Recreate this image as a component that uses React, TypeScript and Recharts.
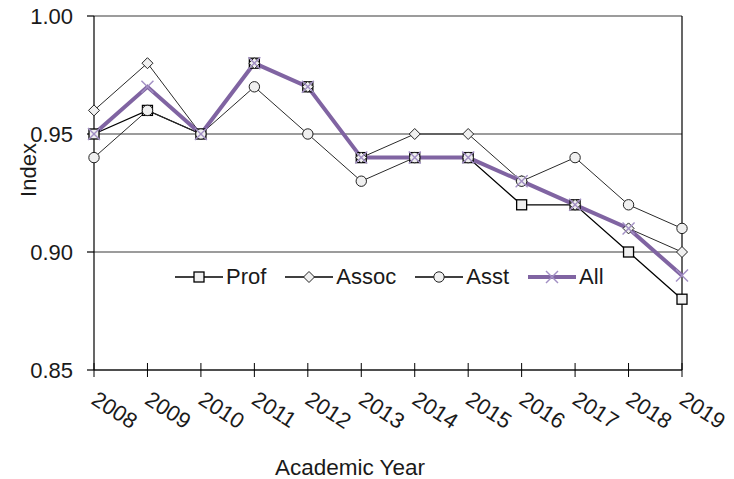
import React from 'react';
import { LineChart, Line, XAxis, YAxis, CartesianGrid, ReferenceLine, Label } from 'recharts';

const years = [2008, 2009, 2010, 2011, 2012, 2013, 2014, 2015, 2016, 2017, 2018, 2019];
const prof = [0.95, 0.96, 0.95, 0.98, 0.97, 0.94, 0.94, 0.94, 0.92, 0.92, 0.90, 0.88];
const assoc = [0.96, 0.98, 0.95, 0.98, 0.97, 0.94, 0.95, 0.95, 0.93, 0.92, 0.91, 0.90];
const asst = [0.94, 0.96, 0.95, 0.97, 0.95, 0.93, 0.94, 0.94, 0.93, 0.94, 0.92, 0.91];
const all = [0.95, 0.97, 0.95, 0.98, 0.97, 0.94, 0.94, 0.94, 0.93, 0.92, 0.91, 0.89];
const yTicks = [0.85, 0.9, 0.95, 1.0];
const seriesNames = ['Prof', 'Assoc', 'Asst', 'All'];

const data = years.map((y, i) => ({
  year: y,
  Prof: prof[i],
  Assoc: assoc[i],
  Asst: asst[i],
  All: all[i],
}));

const FONT = '"Liberation Sans", Arial, sans-serif';
const TEXT = '#1a1a1a';
const PURPLE = '#8064A2';
const XPURPLE = '#a28fc4';
const MFILL = '#f0f0f0';

const square = (cx: number, cy: number, key?: any) => (
  <rect key={key} x={cx - 5} y={cy - 5} width={10} height={10} fill={MFILL} stroke="#000" strokeWidth={1.3} />
);
const diamond = (cx: number, cy: number, key?: any) => (
  <path key={key} d={`M${cx},${cy - 5.5}L${cx + 5.5},${cy}L${cx},${cy + 5.5}L${cx - 5.5},${cy}Z`} fill={MFILL} stroke="#222" strokeWidth={1} />
);
const circle = (cx: number, cy: number, key?: any) => (
  <circle key={key} cx={cx} cy={cy} r={5.2} fill={MFILL} stroke="#222" strokeWidth={1} />
);
const cross = (cx: number, cy: number, key?: any) => (
  <g key={key}>
    <line x1={cx - 6} y1={cy - 6} x2={cx + 6} y2={cy + 6} stroke={XPURPLE} strokeWidth={1.4} />
    <line x1={cx - 6} y1={cy + 6} x2={cx + 6} y2={cy - 6} stroke={XPURPLE} strokeWidth={1.4} />
  </g>
);

const mk = (fn: any) => (props: any) => fn(props.cx, props.cy, props.key ?? `${props.index}`);

const XTick = (props: any) => {
  const { x, y, payload } = props;
  return (
    <g>
      <line x1={x} x2={x} y1={y - 14} y2={y} stroke="#000" strokeWidth={1} />
      <text
        transform={`translate(${x - 4},${y + 26}) rotate(33)`}
        fontFamily={FONT}
        fontSize={22}
        fill={TEXT}
        textAnchor="start"
      >
        {payload.value}
      </text>
    </g>
  );
};

const legendSymbols: Record<string, (cx: number, cy: number) => any> = {
  Prof: square,
  Assoc: diamond,
  Asst: circle,
  All: cross,
};

const LegendBox = () => (
  <div
    style={{
      position: 'absolute',
      left: 175,
      top: 262,
      display: 'flex',
      alignItems: 'center',
      fontFamily: FONT,
      fontSize: 22,
      color: TEXT,
      whiteSpace: 'nowrap',
    }}
  >
    {seriesNames.map((n) => (
      <div key={n} style={{ display: 'flex', alignItems: 'center', marginRight: 19 }}>
        <svg width={48} height={30} style={{ display: 'block' }}>
          <line x1={0} x2={48} y1={15} y2={15} stroke={n === 'All' ? PURPLE : '#000'} strokeWidth={n === 'All' ? 4 : 1.3} />
          {legendSymbols[n](24, 15)}
        </svg>
        <span style={{ marginLeft: 3, lineHeight: '30px' }}>{n}</span>
      </div>
    ))}
  </div>
);

export default function App() {
  return (
    <div style={{ position: 'relative', width: 734, height: 479, margin: '-8px 0 0 -8px' }}>
      <LineChart
        width={734}
        height={479}
        data={data}
        margin={{ top: 16, right: 52, bottom: 29, left: 34 }}
        style={{ overflow: 'visible' }}
      >
        <CartesianGrid vertical={false} stroke="#3a3a3a" strokeWidth={1.2} />
        <XAxis
          dataKey="year"
          type="category"
          scale="point"
          padding={{ left: 0, right: 0 }}
          height={80}
          axisLine={{ stroke: '#000', strokeWidth: 1.2 }}
          tickLine={false}
          tickSize={7}
          tickMargin={0}
          tick={<XTick />}
          interval={0}
        >
          <Label
            content={() => (
              <text x={350} y={475} textAnchor="middle" fontFamily={FONT} fontSize={22.5} fill={TEXT}>
                Academic Year
              </text>
            )}
          />
        </XAxis>
        <YAxis
          domain={[0.85, 1.0]}
          ticks={yTicks}
          width={60}
          axisLine={{ stroke: '#000', strokeWidth: 1.2 }}
          tickLine={{ stroke: '#000', strokeWidth: 1.2 }}
          tickSize={7}
          tickMargin={14}
          tickFormatter={(v: number) => v.toFixed(2)}
          tick={{ fontFamily: FONT, fontSize: 22, fill: TEXT }}
          interval={0}
        >
          <Label
            content={() => (
              <text
                transform="translate(28,170) rotate(-90)"
                textAnchor="middle"
                dominantBaseline="central"
                fontFamily={FONT}
                fontSize={22}
                fill={TEXT}
              >
                Index
              </text>
            )}
          />
        </YAxis>
        <ReferenceLine x={2019} stroke="#000" strokeWidth={1.2} />
        <Line dataKey="Prof" stroke="#000" strokeWidth={1.3} dot={mk(square)} activeDot={false} isAnimationActive={false} />
        <Line dataKey="Assoc" stroke="#2a2a2a" strokeWidth={1} dot={mk(diamond)} activeDot={false} isAnimationActive={false} />
        <Line dataKey="Asst" stroke="#2a2a2a" strokeWidth={1} dot={mk(circle)} activeDot={false} isAnimationActive={false} />
        <Line dataKey="All" stroke={PURPLE} strokeWidth={4} dot={mk(cross)} activeDot={false} isAnimationActive={false} />
      </LineChart>
      <LegendBox />
    </div>
  );
}
